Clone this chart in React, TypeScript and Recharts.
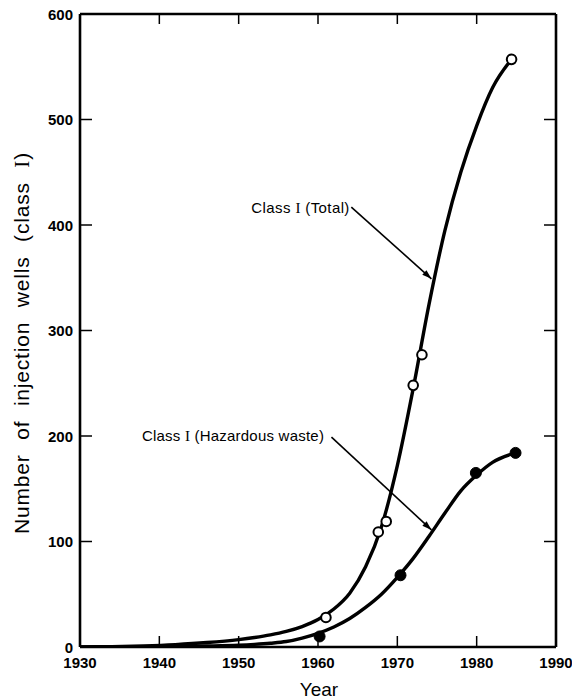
import React from 'react';
import { ComposedChart, Line, Scatter, XAxis, YAxis, ReferenceLine, ReferenceDot } from 'recharts';

// ---- data ----
const xTicks = [1930, 1940, 1950, 1960, 1970, 1980, 1990];
const yTicks = [0, 100, 200, 300, 400, 500, 600];

// Class I (Total) fitted curve
const totalCurveYears = [1930, 1934, 1938, 1942, 1946, 1950, 1952, 1954, 1956, 1958, 1960, 1962, 1964, 1966, 1968, 1970, 1972, 1974, 1976, 1978, 1980, 1982, 1984.4];
const totalCurveValues = [0, 0.4, 1.1, 2.3, 4.2, 7, 9, 11.5, 14.8, 19.4, 26, 36, 51, 76, 114, 172, 245, 325, 395, 450, 494, 530, 557];

// Class I (Hazardous waste) fitted curve
const hazCurveYears = [1930, 1936, 1942, 1946, 1950, 1952, 1954, 1956, 1958, 1960, 1962, 1964, 1966, 1968, 1970, 1972, 1974, 1976, 1978, 1980, 1982, 1984.9];
const hazCurveValues = [0, 0.1, 0.4, 0.9, 1.7, 2.5, 3.6, 5.2, 8.5, 13, 19, 27, 37.5, 50, 66, 84, 105, 127, 148, 163, 175, 184];

// observed points
const totalPointYears = [1961.0, 1967.6, 1968.6, 1972.0, 1973.1, 1984.4];
const totalPointValues = [28, 109, 119, 248, 277, 557];
const hazPointYears = [1960.2, 1970.4, 1979.9, 1984.9];
const hazPointValues = [10, 68, 165, 184];

// annotations (data coordinates)
const totalLabelAnchor = { x: 1951.6, y: 416 };
const hazLabelAnchor = { x: 1937.8, y: 200 };
const totalArrow = [{ x: 1964.2, y: 417 }, { x: 1974.3, y: 349 }];
const hazArrow = [{ x: 1961.7, y: 199 }, { x: 1974.3, y: 111 }];

const totalCurve = totalCurveYears.map((year, i) => ({ year, value: totalCurveValues[i] }));
const hazCurve = hazCurveYears.map((year, i) => ({ year, value: hazCurveValues[i] }));
const totalPoints = totalPointYears.map((year, i) => ({ year, value: totalPointValues[i] }));
const hazPoints = hazPointYears.map((year, i) => ({ year, value: hazPointValues[i] }));

const FONT = "'Liberation Sans', Arial, Helvetica, sans-serif";
const SERIF = "'Liberation Serif', 'Times New Roman', serif";

const BottomTick = (props: any) => {
  const { x, y, payload } = props;
  return (
    <g>
      <line x1={x} y1={y} x2={x} y2={y - 11} stroke="#000" strokeWidth={1.5} />
      <text x={x} y={y + 21} textAnchor="middle" fontFamily={FONT} fontSize={15} fontWeight="bold" fill="#000">
        {payload.value}
      </text>
    </g>
  );
};
const LeftTick = (props: any) => {
  const { x, y, payload } = props;
  return (
    <g>
      <line x1={x} y1={y} x2={x + 12} y2={y} stroke="#000" strokeWidth={1.5} />
      <text x={x - 7} y={y + 5.5} textAnchor="end" fontFamily={FONT} fontSize={15} fontWeight="bold" fill="#000">
        {payload.value}
      </text>
    </g>
  );
};
const TopTick = (props: any) => {
  const { x, y } = props;
  return <line x1={x} y1={y} x2={x} y2={y + 10} stroke="#000" strokeWidth={1.5} />;
};
const RightTick = (props: any) => {
  const { x, y } = props;
  return <line x1={x} y1={y} x2={x - 12} y2={y} stroke="#000" strokeWidth={1.5} />;
};

const OpenCircle = (props: any) => (
  <circle cx={props.cx} cy={props.cy} r={4.8} fill="#fff" stroke="#000" strokeWidth={2} />
);
const FilledCircle = (props: any) => (
  <circle cx={props.cx} cy={props.cy} r={5.5} fill="#000" stroke="#000" strokeWidth={1} />
);

const Arrow = (props: any) => {
  const { x1, y1, x2, y2 } = props;
  const ang = Math.atan2(y2 - y1, x2 - x1);
  const len = 10;
  const spread = 0.32;
  const ax = x2 - len * Math.cos(ang - spread);
  const ay = y2 - len * Math.sin(ang - spread);
  const bx = x2 - len * Math.cos(ang + spread);
  const by = y2 - len * Math.sin(ang + spread);
  return (
    <g>
      <line x1={x1} y1={y1} x2={x2} y2={y2} stroke="#000" strokeWidth={1.6} />
      <polygon points={`${x2},${y2} ${ax},${ay} ${bx},${by}`} fill="#000" />
    </g>
  );
};

const makeLabel = (suffix: string, width: number) => (props: any) => (
  <text
    x={props.cx}
    y={props.cy + 5}
    fontFamily={FONT}
    fontSize={15}
    fill="#000"
    textLength={width}
    lengthAdjust="spacing"
  >
    {'Class '}
    <tspan fontFamily={SERIF}>I</tspan>
    {suffix}
  </text>
);

const TotalLabel = makeLabel(' (Total)', 98);
const HazLabel = makeLabel(' (Hazardous waste)', 182);

const YTitle = () => (
  <text
    x={29}
    y={343}
    transform="rotate(-90, 29, 343)"
    textAnchor="middle"
    fontFamily={FONT}
    fontSize={21}
    fill="#000"
    letterSpacing={0.8}
    wordSpacing={8}
  >
    Number of injection wells (class <tspan fontFamily={SERIF}>I</tspan>)
  </text>
);
const XTitle = () => (
  <text x={319} y={696} textAnchor="middle" fontFamily={FONT} fontSize={19} fill="#000">
    Year
  </text>
);

export default function App() {
  return (
    <div style={{ position: 'absolute', left: 0, top: 0, background: '#fff' }}>
      <ComposedChart width={572} height={700} margin={{ top: 13, right: 15, bottom: 23, left: 0 }}>
        <XAxis
          dataKey="year"
          type="number"
          domain={[1930, 1990]}
          ticks={xTicks}
          interval={0}
          allowDataOverflow
          height={30}
          tickSize={0}
          tickMargin={0}
          tick={<BottomTick />}
          axisLine={{ stroke: '#000', strokeWidth: 2.6 }}
          tickLine={false}
          label={<XTitle />}
        />
        <XAxis
          xAxisId="top"
          orientation="top"
          dataKey="year"
          type="number"
          domain={[1930, 1990]}
          ticks={xTicks}
          interval={0}
          allowDataOverflow
          height={1}
          tickSize={0}
          tickMargin={0}
          tick={<TopTick />}
          axisLine={{ stroke: '#000', strokeWidth: 2.6 }}
          tickLine={false}
        />
        <YAxis
          type="number"
          domain={[0, 600]}
          ticks={yTicks}
          interval={0}
          allowDataOverflow
          width={80}
          tickSize={0}
          tickMargin={0}
          tick={<LeftTick />}
          axisLine={{ stroke: '#000', strokeWidth: 2.6 }}
          tickLine={false}
          label={<YTitle />}
        />
        <YAxis
          yAxisId="right"
          orientation="right"
          type="number"
          domain={[0, 600]}
          ticks={yTicks}
          interval={0}
          allowDataOverflow
          width={1}
          tickSize={0}
          tickMargin={0}
          tick={<RightTick />}
          axisLine={{ stroke: '#000', strokeWidth: 2.6 }}
          tickLine={false}
        />
        <Line data={totalCurve} dataKey="value" type="monotone" stroke="#000" strokeWidth={3.4} dot={false} activeDot={false} isAnimationActive={false} />
        <Line data={hazCurve} dataKey="value" type="monotone" stroke="#000" strokeWidth={3.4} dot={false} activeDot={false} isAnimationActive={false} />
        <Scatter data={totalPoints} dataKey="value" shape={OpenCircle} isAnimationActive={false} />
        <Scatter data={hazPoints} dataKey="value" shape={FilledCircle} isAnimationActive={false} />
        <ReferenceLine segment={totalArrow} shape={Arrow} ifOverflow="visible" />
        <ReferenceLine segment={hazArrow} shape={Arrow} ifOverflow="visible" />
        <ReferenceDot x={totalLabelAnchor.x} y={totalLabelAnchor.y} r={0} shape={TotalLabel} ifOverflow="visible" />
        <ReferenceDot x={hazLabelAnchor.x} y={hazLabelAnchor.y} r={0} shape={HazLabel} ifOverflow="visible" />
      </ComposedChart>
    </div>
  );
}
